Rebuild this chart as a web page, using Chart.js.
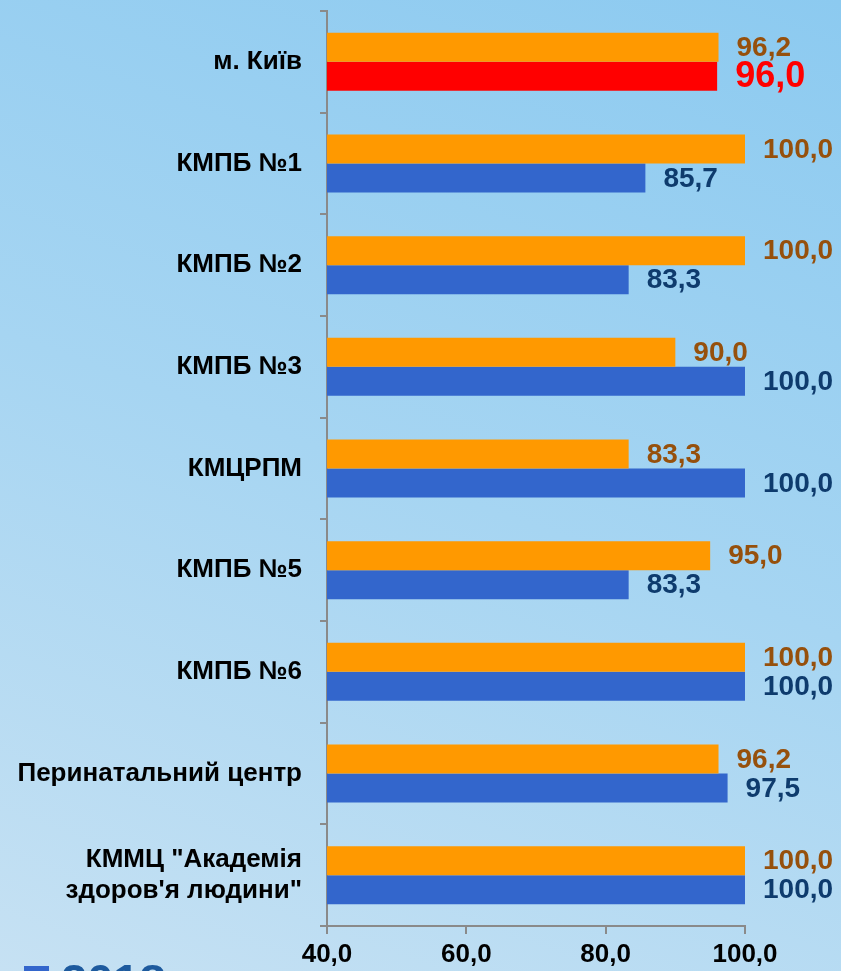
<!DOCTYPE html>
<html>
<head>
<meta charset="utf-8">
<script src="https://cdn.jsdelivr.net/npm/chart.js@4"></script>
<style>
  html, body { margin: 0; padding: 0; }
  body {
    width: 841px; height: 971px; overflow: hidden;
    background: linear-gradient(200deg, #8ccaf0 0%, #a6d5f2 50%, #c6e1f3 100%);
  }
  #wrap { width: 841px; height: 971px; }
</style>
</head>
<body>
<div id="wrap"><canvas id="chart1"></canvas></div>
<script>
// =========================== data =================
const categories = [
  "м. Київ",
  "КМПБ №1",
  "КМПБ №2",
  "КМПБ №3",
  "КМЦРПМ",
  "КМПБ №5",
  "КМПБ №6",
  "Перинатальний центр",
  ["КММЦ \"Академія", "здоров'я людини\""],
];
const values2019 = [96.2, 100.0, 100.0, 90.0, 83.3, 95.0, 100.0, 96.2, 100.0];
const values2018 = [96.0, 85.7, 83.3, 100.0, 100.0, 83.3, 100.0, 97.5, 100.0];
const xTicks = [40, 60, 80, 100];

const fmt = v => v.toFixed(1).replace(".", ",");

// labels next to the bar ends
const valueLabels = {
  id: "valueLabels",
  afterDatasetsDraw(chart) {
    const ctx = chart.ctx;
    ctx.save();
    ctx.textBaseline = "middle";
    ctx.textAlign = "left";
    chart.data.datasets.forEach((ds, di) => {
      const meta = chart.getDatasetMeta(di);
      meta.data.forEach((bar, i) => {
        let color = di === 0 ? "#96500c" : "#0e3b6d";
        let size = 28;
        if (di === 1 && i === 0) { color = "#ff0000"; size = 36; }
        ctx.fillStyle = color;
        ctx.font = "bold " + size + "px 'Liberation Sans', Arial, sans-serif";
        ctx.fillText(fmt(ds.data[i]), bar.x + 18, bar.y + 1);
      });
    });
    ctx.restore();
  }
};

// partly visible legend at the bottom left
const cutLegend = {
  id: "cutLegend",
  afterDraw(chart) {
    const ctx = chart.ctx;
    ctx.save();
    ctx.fillStyle = "#3366cc";
    ctx.fillRect(24, 966, 25, 10);
    ctx.fillStyle = "#1d5a9e";
    ctx.font = "bold 47px 'Liberation Sans', Arial, sans-serif";
    ctx.textBaseline = "alphabetic";
    ctx.fillText("2018", 61, 997);
    ctx.restore();
  }
};

let chartEle1 = document.getElementById("chart1").getContext("2d");

let chart1 = new Chart(chartEle1, {
  type: "bar",
  data: {
    labels: categories,
    datasets: [
      {
        label: "2019",
        data: values2019,
        backgroundColor: "#ff9900",
        categoryPercentage: 0.57,
        barPercentage: 1.0,
      },
      {
        label: "2018",
        data: values2018,
        backgroundColor: values2018.map((v, i) => (i === 0 ? "#ff0000" : "#3366cc")),
        categoryPercentage: 0.57,
        barPercentage: 1.0,
      },
    ],
  },
  options: {
    indexAxis: "y",
    responsive: true,
    maintainAspectRatio: false,
    animation: false,
    layout: { padding: { top: 11, right: 96, left: 0, bottom: 0 } },
    scales: {
      x: {
        min: 40,
        max: 100,
        afterBuildTicks: s => { s.ticks = xTicks.map(v => ({ value: v })); },
        afterFit: s => { s.height = 45; s.paddingLeft = 0; s.paddingRight = 0; },
        border: { color: "#8a8a8a", width: 2 },
        grid: { drawOnChartArea: false, tickLength: 8, color: "#8a8a8a", lineWidth: 2 },
        ticks: {
          color: "#000",
          padding: 5,
          font: { family: "'Liberation Sans', Arial, sans-serif", size: 26, weight: "bold" },
          callback: v => fmt(v),
        },
      },
      y: {
        afterFit: s => { s.width = 327; s.paddingTop = 0; s.paddingBottom = 0; },
        border: { color: "#8a8a8a", width: 2 },
        grid: { drawOnChartArea: false, tickLength: 7, color: "#8a8a8a", lineWidth: 2 },
        ticks: {
          color: "#000",
          padding: 18,
          font: { family: "'Liberation Sans', Arial, sans-serif", size: 26, weight: "bold", lineHeight: 1.2 },
        },
      },
    },
    plugins: {
      legend: { display: false },
      tooltip: { enabled: false },
    },
  },
  plugins: [valueLabels, cutLegend],
});
</script>
</body>
</html>
